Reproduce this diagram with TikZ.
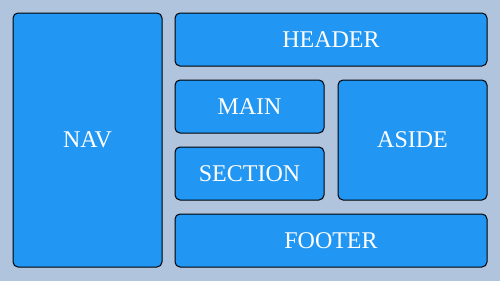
\documentclass[tikz,border=0pt]{standalone}
\usepackage{fontspec}
\setmainfont{Liberation Serif}
\definecolor{pagebg}{HTML}{B0C4DE}
\definecolor{boxblue}{HTML}{2196F3}
\begin{document}
\begin{tikzpicture}[x=1pt,y=-1pt,line width=1pt,font=\fontsize{24}{28}\selectfont,
	area/.style={draw=black,fill=boxblue,rounded corners=5pt,inner sep=0pt,text=white}]
	\fill[pagebg] (0,0) rectangle (500,281);
	\useasboundingbox (0,0) rectangle (500,281);
	\foreach \n/\cx/\cy/\w/\h/\t in {nav/87.5/140/149/254/NAV,header/331/39.5/312/53/HEADER,
		main/249.5/106.5/149/53/MAIN,section/249.5/173.5/149/53/SECTION,
		aside/412.5/140/149/120/ASIDE,footer/331/240.5/312/53/FOOTER}{
		\node[area,minimum width=\w pt,minimum height=\h pt] (\n) at (\cx,\cy) {\t};
	}
\end{tikzpicture}
\end{document}
